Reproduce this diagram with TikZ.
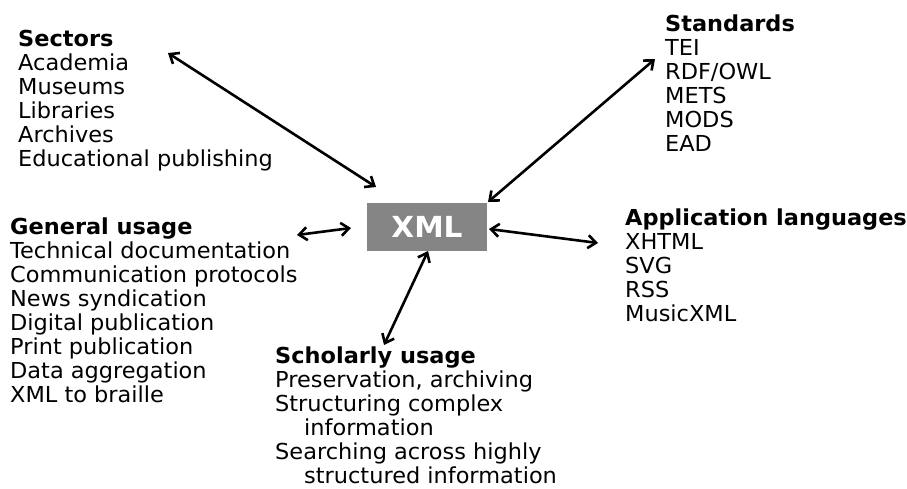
\documentclass[tikz,border=0pt]{standalone}
\usepackage{fontspec}
\setmainfont[FakeStretch=1.02]{DejaVu Sans}
\usetikzlibrary{arrows.meta}

\tikzset{
	group/.style = {anchor = base west, align = left, inner sep = 0pt,
		font = \fontsize{22}{24}\selectfont},
	hub/.style = {fill = black!48, text = white, minimum width = 120pt,
		minimum height = 48pt, inner sep = 0pt,
		font = \fontsize{29}{29}\selectfont\bfseries},
	link/.style = {line width = 2.6pt, {Straight Barb[length=8pt,width=13pt]}-{Straight Barb[length=8pt,width=13pt]}}
}

\begin{document}
\begin{tikzpicture}[x = 1pt, y = -1pt]
	\useasboundingbox (0,0) rectangle (907,488);
	% hub
	\node [hub] (xml) at (427,227) {XML};
	% groups (placed by the baseline of their last line)
	\node [group] (sectors) at (18,166) {\textbf{Sectors}\\Academia\\Museums\\Libraries\\Archives\\Educational publishing};
	\node [group] (standards) at (665,151) {\textbf{Standards}\\TEI\\RDF/OWL\\METS\\MODS\\EAD};
	\node [group] (general) at (10,402) {\textbf{General usage}\\Technical documentation\\Communication protocols\\News syndication\\Digital publication\\Print publication\\Data aggregation\\XML to braille};
	\node [group] (applang) at (625,321) {\textbf{Application languages}\\XHTML\\SVG\\RSS\\MusicXML};
	\node [group] (scholarly) at (275,483) {\textbf{Scholarly usage}\\Preservation, archiving\\Structuring complex\\\hspace*{29pt}information\\Searching across highly\\\hspace*{29pt}structured information};
	% arrow ends
	\coordinate (sec end) at (168,53);
	\coordinate (xml sec) at (376,187);
	\coordinate (std end) at (655,59);
	\coordinate (xml std) at (488,202);
	\coordinate (gen end) at (297,235);
	\coordinate (xml gen) at (351,228);
	\coordinate (app end) at (598,243);
	\coordinate (xml app) at (489,229);
	\coordinate (sch end) at (384,345);
	\coordinate (xml sch) at (428,251);
	\draw [link] (sec end) -- (xml sec);
	\draw [link] (std end) -- (xml std);
	\draw [link] (gen end) -- (xml gen);
	\draw [link] (app end) -- (xml app);
	\draw [link] (sch end) -- (xml sch);
\end{tikzpicture}
\end{document}
